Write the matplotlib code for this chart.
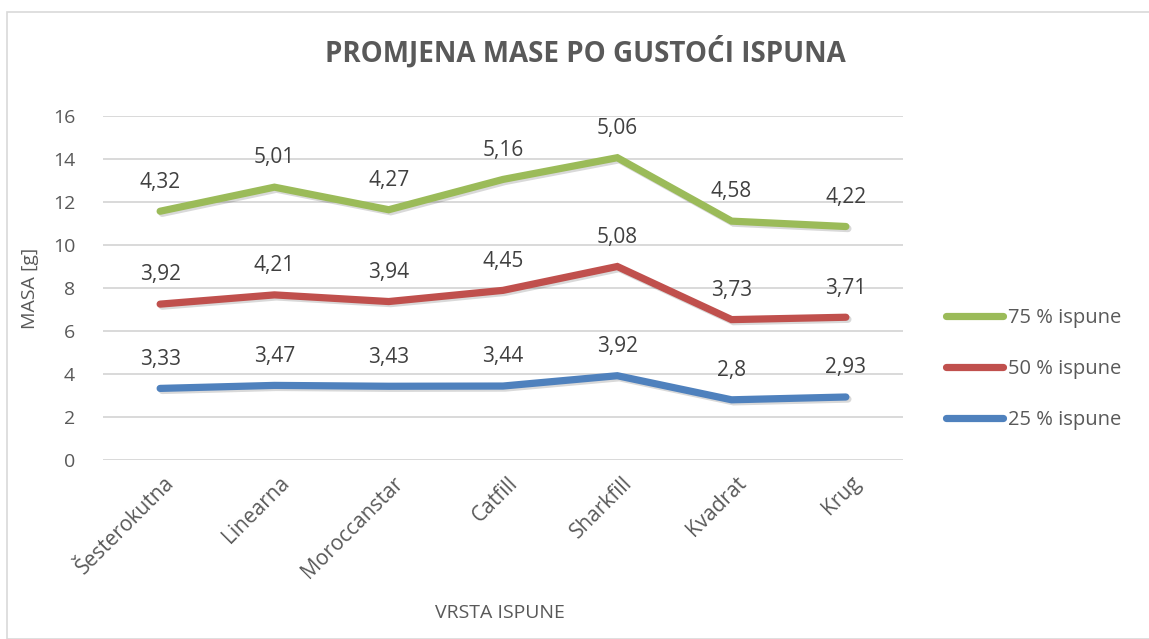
import matplotlib
matplotlib.use("Agg")
import matplotlib.pyplot as plt
import matplotlib.patheffects as pe
import matplotlib.transforms as mtransforms
from matplotlib.patches import Rectangle
from matplotlib.lines import Line2D

categories = ["Šesterokutna", "Linearna", "Moroccanstar", "Catfill", "Sharkfill", "Kvadrat", "Krug"]
fill_25 = [3.33, 3.47, 3.43, 3.44, 3.92, 2.80, 2.93]
fill_50 = [3.92, 4.21, 3.94, 4.45, 5.08, 3.73, 3.71]
fill_75 = [4.32, 5.01, 4.27, 5.16, 5.06, 4.58, 4.22]
series_names = ["25 % ispune", "50 % ispune", "75 % ispune"]
colors = ["#4F81BD", "#C0504D", "#9BBB59"]
y_ticks = [0, 2, 4, 6, 8, 10, 12, 14, 16]

plt.rcParams["font.family"] = ["Open Sans", "DejaVu Sans"]
text_col = "#595959"
label_col = "#404040"

fig = plt.figure(figsize=(11.49, 6.39), dpi=100)
fig.patches.append(Rectangle((7 / 1149, 0.0), 1.2, 1 - 12 / 639, transform=fig.transFigure,
                             fill=False, edgecolor="#d9d9d9", linewidth=1.2))
ax = fig.add_axes([103 / 1149, 1 - 460 / 639, 800 / 1149, 344 / 639])

x = list(range(len(categories)))
base = [0.0] * len(categories)
for name, vals, col in zip(series_names, [fill_25, fill_50, fill_75], colors):
    cum = [b + v for b, v in zip(base, vals)]
    ax.plot(x, cum, color=col, linewidth=5.2, solid_capstyle="round",
            solid_joinstyle="miter", zorder=3,
            path_effects=[pe.SimpleLineShadow(offset=(1.5, -1.5), shadow_color="#000000", alpha=0.15),
                          pe.Normal()])
    for xi, yi, v in zip(x, cum, vals):
        txt = f"{v:g}".replace(".", ",")
        ax.annotate(txt, (xi, yi), xytext=(0, 21), textcoords="offset points",
                    ha="center", va="center", fontsize=15, color=label_col, zorder=4)
    base = cum

ax.set_xlim(-0.5, len(categories) - 0.5)
ax.set_ylim(0, 16)
ax.set_yticks(y_ticks)
ax.set_yticklabels([str(t) for t in y_ticks], fontsize=14, color=text_col)
ax.set_xticks(x)
ax.set_xticklabels(categories, rotation=45, ha="right", rotation_mode="anchor",
                   fontsize=15, color=text_col)
ax.tick_params(axis="both", length=0)
ax.tick_params(axis="y", pad=20)
ax.tick_params(axis="x", pad=9)
for lbl in ax.get_xticklabels():
    lbl.set_transform(lbl.get_transform() +
                      mtransforms.ScaledTranslation(4 / 100, 0, fig.dpi_scale_trans))
ax.grid(axis="y", color="#d9d9d9", linewidth=1.4, zorder=0)
ax.set_axisbelow(True)
for s in ax.spines.values():
    s.set_visible(False)

ax.set_ylabel("MASA [g]", fontsize=14, color=text_col, labelpad=10)
fig.text(500 / 1149, 1 - 613 / 639, "VRSTA ISPUNE", ha="center", va="center",
         fontsize=14, color=text_col)
fig.text(585 / 1149, 1 - 52 / 639, "PROMJENA MASE PO GUSTOĆI ISPUNA", ha="center", va="center",
         fontsize=20, fontweight="bold", color=text_col)

handles = [Line2D([], [], color=c, linewidth=5.2, solid_capstyle="round") for c in colors]
fig.legend(handles[::-1], series_names[::-1], loc="center left",
           bbox_to_anchor=(928 / 1149, 1 - 369 / 639), frameon=False,
           fontsize=14.5, handlelength=2.8, handletextpad=0.25, labelspacing=1.55,
           labelcolor=text_col)

fig.savefig("out.png", dpi=100, facecolor="white")
